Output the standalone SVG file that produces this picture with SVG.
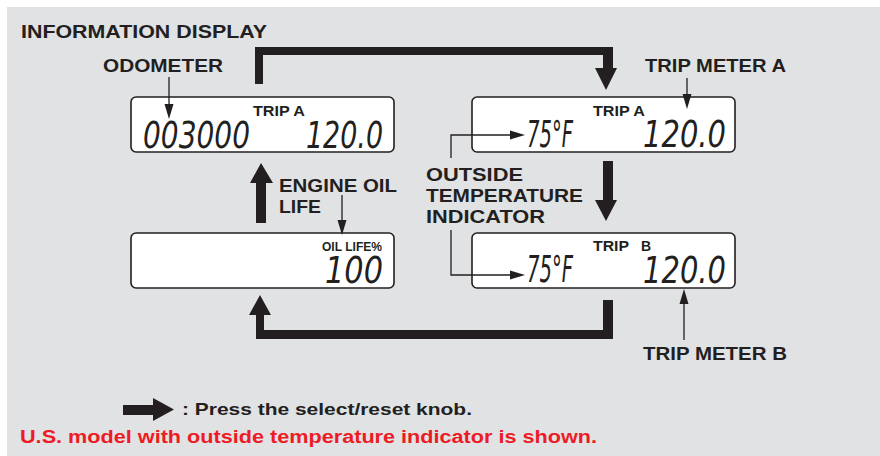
<svg xmlns="http://www.w3.org/2000/svg" width="880" height="456" viewBox="0 0 880 456">
<defs>
<style>
.bg{fill:#e1e2e4}
.box{fill:#ffffff;stroke:#231f20;stroke-width:1.6}
.lbl{font-family:"Liberation Sans",Arial,sans-serif;font-weight:bold;fill:#231f20}
.lcd{font-family:"DejaVu Sans","Liberation Sans",sans-serif;font-style:italic;font-weight:200;fill:#231f20}
.thick{fill:#231f20}
.thin{stroke:#231f20;stroke-width:1.3;fill:none}
.head{fill:#231f20}
.red{font-family:"Liberation Sans",Arial,sans-serif;font-weight:bold;fill:#ed1c24}
</style>
</defs>
<rect x="0" y="0" width="880" height="456" fill="#ffffff"/>
<rect class="bg" x="7" y="7" width="873" height="449"/>

<text class="lbl" x="21" y="38" font-size="19" textLength="246" lengthAdjust="spacingAndGlyphs">INFORMATION DISPLAY</text>

<g id="odometer-label">
<text class="lbl" x="103" y="72" font-size="18" textLength="120" lengthAdjust="spacingAndGlyphs">ODOMETER</text>
</g>
<g id="trip-meter-a-label">
<text class="lbl" x="645" y="72" font-size="18" textLength="141" lengthAdjust="spacingAndGlyphs">TRIP METER A</text>
</g>
<g id="engine-oil-label">
<text class="lbl" x="279" y="192" font-size="18" textLength="118" lengthAdjust="spacingAndGlyphs">ENGINE OIL</text>
<text class="lbl" x="279" y="213" font-size="18" textLength="42" lengthAdjust="spacingAndGlyphs">LIFE</text>
</g>
<g id="outside-temp-label">
<text class="lbl" x="426" y="181" font-size="19" textLength="97" lengthAdjust="spacingAndGlyphs">OUTSIDE</text>
<text class="lbl" x="426" y="202" font-size="19" textLength="157" lengthAdjust="spacingAndGlyphs">TEMPERATURE</text>
<text class="lbl" x="426" y="223" font-size="19" textLength="119" lengthAdjust="spacingAndGlyphs">INDICATOR</text>
</g>
<g id="trip-meter-b-label">
<text class="lbl" x="643" y="360" font-size="18" textLength="144" lengthAdjust="spacingAndGlyphs">TRIP METER B</text>
</g>

<g id="display-odometer">
<rect class="box" x="131" y="97" width="263" height="55" rx="5"/>
<text class="lbl" x="253" y="116" font-size="14" textLength="52" lengthAdjust="spacingAndGlyphs">TRIP A</text>
<text class="lcd" x="143" y="148" font-size="38" textLength="107" lengthAdjust="spacingAndGlyphs">003000</text>
<text class="lcd" x="306" y="148" font-size="38" textLength="77" lengthAdjust="spacingAndGlyphs">120.0</text>
</g>

<g id="display-trip-a">
<rect class="box" x="472" y="97" width="263" height="55" rx="5"/>
<text class="lbl" x="593" y="116" font-size="14" textLength="52" lengthAdjust="spacingAndGlyphs">TRIP A</text>
<text class="lcd" x="527" y="147" font-size="38" textLength="46" lengthAdjust="spacingAndGlyphs">75°F</text>
<text class="lcd" x="643" y="147" font-size="38" textLength="83" lengthAdjust="spacingAndGlyphs">120.0</text>
</g>

<g id="display-oil-life">
<rect class="box" x="131" y="233" width="263" height="55" rx="5"/>
<text class="lbl" x="322" y="251" font-size="12.5" textLength="60" lengthAdjust="spacingAndGlyphs">OIL LIFE%</text>
<text class="lcd" x="325" y="283" font-size="37" textLength="58" lengthAdjust="spacingAndGlyphs">100</text>
</g>

<g id="display-trip-b">
<rect class="box" x="472" y="233" width="263" height="55" rx="5"/>
<text class="lbl" x="593" y="251" font-size="14" textLength="36" lengthAdjust="spacingAndGlyphs">TRIP</text>
<text class="lbl" x="641" y="251" font-size="14">B</text>
<text class="lcd" x="527" y="282" font-size="38" textLength="46" lengthAdjust="spacingAndGlyphs">75°F</text>
<text class="lcd" x="643" y="283" font-size="38" textLength="83" lengthAdjust="spacingAndGlyphs">120.0</text>
</g>

<g id="connectors">
<path class="thick" d="M255,84 L255,47 L613,47 L613,68 L617,68 L606,90 L595,68 L603,68 L603,55 L263,55 L263,84 Z"/>
<path class="thick" d="M603,161 L613,161 L613,200 L617,200 L606,221 L595,200 L603,200 Z"/>
<path class="thick" d="M603,300 L613,300 L613,339 L256,339 L256,315 L249,315 L260,295 L271,315 L264,315 L264,330 L603,330 Z"/>
<path class="thick" d="M256,223 L266,223 L266,183 L273,183 L261,163 L250,183 L256,183 Z"/>
<line class="thin" x1="169" y1="77" x2="169" y2="106"/>
<polygon class="head" points="164.5,104 173.5,104 169,119"/>
<line class="thin" x1="687" y1="78" x2="687" y2="96"/>
<polygon class="head" points="682.5,94 691.5,94 687,109"/>
<line class="thin" x1="342" y1="195" x2="342" y2="222"/>
<polygon class="head" points="337.5,220 346.5,220 342,235"/>
<line class="thin" x1="684" y1="340" x2="684" y2="302"/>
<polygon class="head" points="679.5,304 688.5,304 684,289"/>
<polyline class="thin" points="451,158 451,135 512,135"/>
<polygon class="head" points="510,130.5 510,139.5 525,135"/>
<polyline class="thin" points="451,230 451,275 512,275"/>
<polygon class="head" points="510,270.5 510,279.5 525,275"/>
</g>

<g id="legend">
<path class="thick" d="M123,405 L153,405 L153,398 L174,409.5 L153,421 L153,415 L123,415 Z"/>
<text class="lbl" x="182" y="415" font-size="17" textLength="290" lengthAdjust="spacingAndGlyphs">: Press the select/reset knob.</text>
<text class="red" x="20" y="443" font-size="18" textLength="577" lengthAdjust="spacingAndGlyphs">U.S. model with outside temperature indicator is shown.</text>
</g>
</svg>
